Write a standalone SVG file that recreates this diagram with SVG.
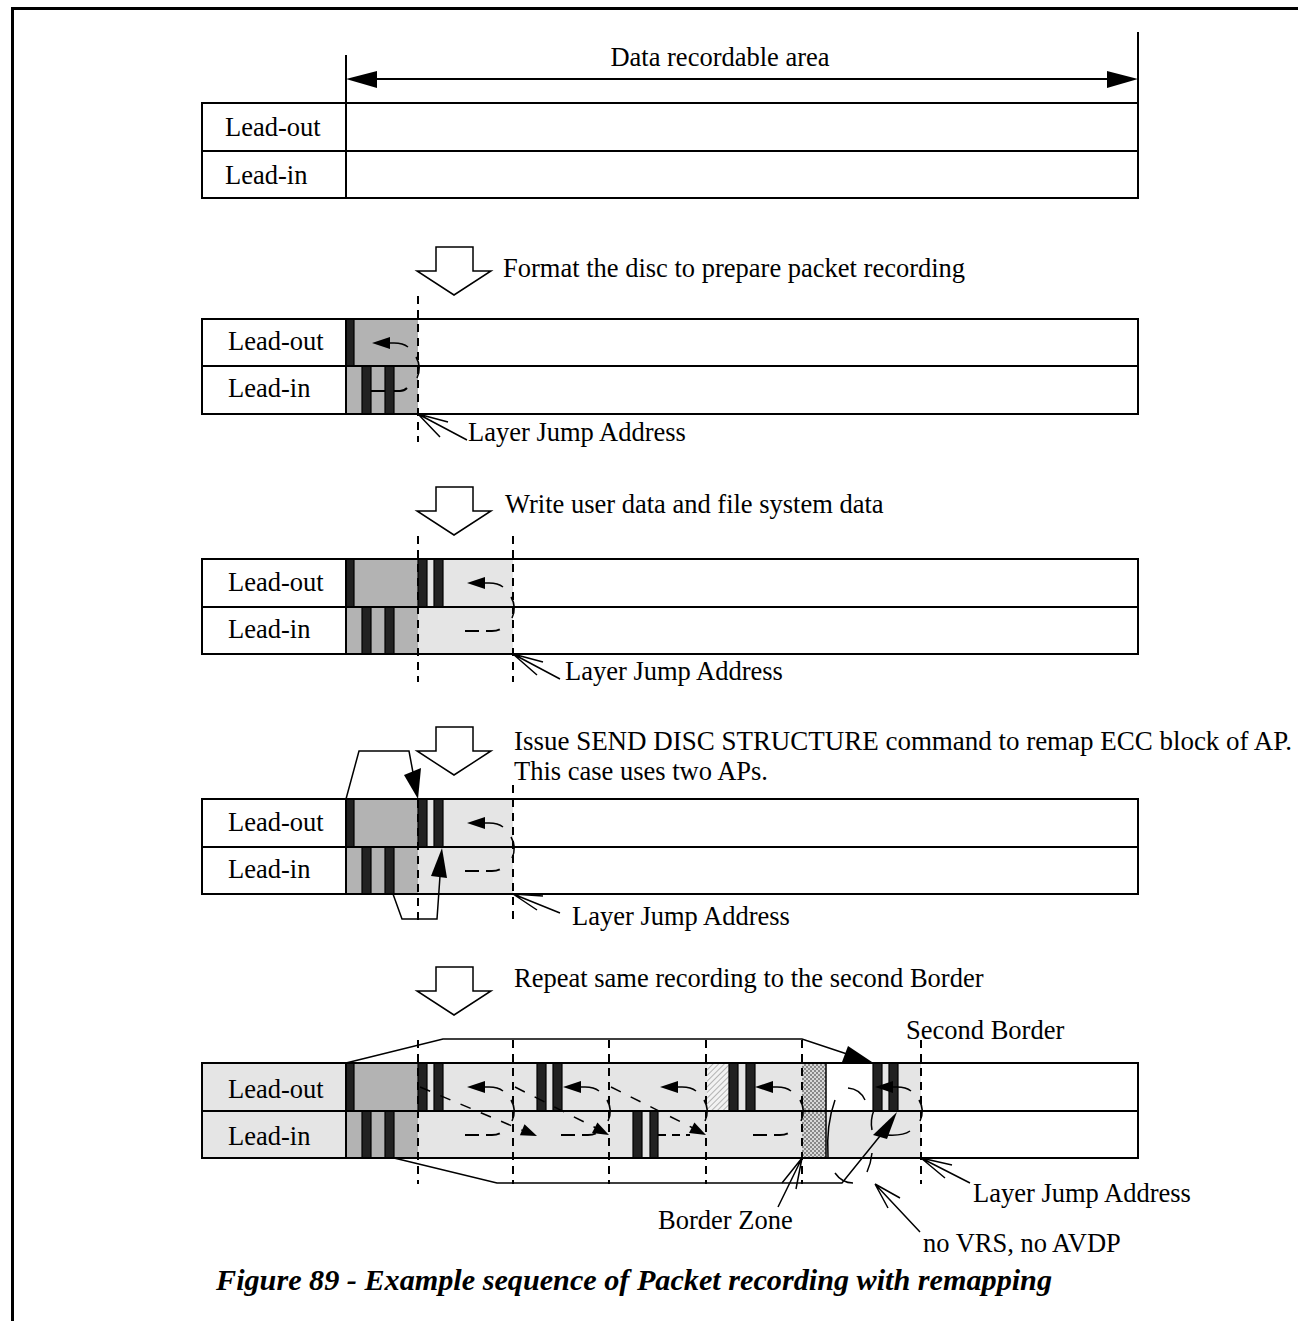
<svg xmlns="http://www.w3.org/2000/svg" xmlns:xlink="http://www.w3.org/1999/xlink" width="1298" height="1321" viewBox="0 0 1298 1321">
<style>
text{font-family:"Liberation Serif","Times New Roman",serif;font-size:26.5px;fill:#000}
.cap{font-weight:bold;font-style:italic;font-size:30.2px}
.tb{fill:none;stroke:#000;stroke-width:2}
.ln{fill:none;stroke:#000;stroke-width:2}
.thin{fill:none;stroke:#000;stroke-width:1.5}
.dash{fill:none;stroke:#000;stroke-width:2;stroke-dasharray:8 6}
.ddash{fill:none;stroke:#000;stroke-width:1.5;stroke-dasharray:11 11}
.bar{fill:#222;stroke:#000;stroke-width:1.2}
.dk{fill:#b3b3b3}
.lt{fill:#e5e5e5}
.blk{fill:#000}
.barrow{fill:#fff;stroke:#000;stroke-width:1.5}
</style>
<defs>
<pattern id="hatch" width="4" height="4" patternUnits="userSpaceOnUse" patternTransform="rotate(45)"><rect width="4" height="4" fill="#f2f2f2"/><line x1="0" y1="0" x2="0" y2="4" stroke="#888" stroke-width="1.2"/></pattern>
<pattern id="check" width="4" height="4" patternUnits="userSpaceOnUse"><rect width="4" height="4" fill="#d8d8d8"/><rect width="2" height="2" fill="#888"/><rect x="2" y="2" width="2" height="2" fill="#888"/></pattern>
<g id="larrow"><polygon points="0,0 18,-6 18,6" fill="#000"/><path d="M14 0 L22 0 Q31 0 36 4" fill="none" stroke="#000" stroke-width="1.5"/></g>
<path id="ldash" d="M0 0 L27 0 Q34 0 38 -4" fill="none" stroke="#000" stroke-width="2" stroke-dasharray="14 7"/>
<path id="loop" d="M-2 0 Q4 10 -1 21" fill="none" stroke="#000" stroke-width="1.5"/>
</defs>

<g id="frame">
<path d="M12.5 1321 V8.5 H1298" fill="none" stroke="#000" stroke-width="3"/>
</g>

<!-- Section 1 -->
<g id="stage1">
<text x="720" y="66" text-anchor="middle">Data recordable area</text>
<line class="ln" x1="346" y1="55" x2="346" y2="198"/>
<line class="ln" x1="1138" y1="32" x2="1138" y2="198"/>
<line class="ln" x1="360" y1="79" x2="1124" y2="79"/>
<polygon class="blk" points="346,79 377,71 377,88"/>
<polygon class="blk" points="1138,79 1107,71 1107,88"/>
<rect class="tb" x="202" y="103" width="936" height="95"/>
<line class="tb" x1="202" y1="151" x2="1138" y2="151"/>
<text x="225" y="136">Lead-out</text>
<text x="225" y="184">Lead-in</text>
</g>

<!-- Section 2 -->
<g id="step1">
<polygon class="barrow" points="436,247 473,247 473,271 491,271 454,295 417,271 436,271"/>
<text x="503" y="277">Format the disc to prepare packet recording</text>
</g>
<g id="stage2">
<rect class="dk" x="346" y="319" width="72" height="95"/>
<rect class="bar" x="346" y="319" width="8" height="47"/>
<rect class="bar" x="362" y="366" width="9" height="48"/>
<rect class="bar" x="385" y="366" width="9" height="48"/>
<use xlink:href="#larrow" x="372" y="343"/>
<path d="M371 391 H385 M394 391 H400 Q404 391 407 388" fill="none" stroke="#000" stroke-width="2"/>
<use xlink:href="#loop" x="418" y="357"/>
<rect class="tb" x="202" y="319" width="936" height="95"/>
<line class="tb" x1="202" y1="366" x2="1138" y2="366"/>
<line class="tb" x1="346" y1="319" x2="346" y2="414"/>
<line class="dash" x1="418" y1="296" x2="418" y2="442"/>
<text x="228" y="350">Lead-out</text>
<text x="228" y="397">Lead-in</text>
<text x="468" y="441">Layer Jump Address</text>
</g>

<!-- Section 3 -->
<g id="step2">
<polygon class="barrow" points="436,487 473,487 473,511 491,511 454,535 417,511 436,511"/>
<text x="505" y="513">Write user data and file system data</text>
</g>
<g id="stage3">
<rect class="dk" x="346" y="559" width="72" height="95"/>
<rect class="lt" x="418" y="559" width="95" height="95"/>
<rect class="bar" x="346" y="559" width="8" height="48"/>
<rect class="bar" x="362" y="607" width="9" height="47"/>
<rect class="bar" x="385" y="607" width="9" height="47"/>
<rect class="bar" x="418" y="559" width="9" height="48"/>
<rect class="bar" x="434" y="559" width="9" height="48"/>
<use xlink:href="#larrow" x="467" y="583"/>
<use xlink:href="#ldash" x="465" y="631"/>
<use xlink:href="#loop" x="513" y="597"/>
<rect class="tb" x="202" y="559" width="936" height="95"/>
<line class="tb" x1="202" y1="607" x2="1138" y2="607"/>
<line class="tb" x1="346" y1="559" x2="346" y2="654"/>
<line class="dash" x1="418" y1="536" x2="418" y2="682"/>
<line class="dash" x1="513" y1="536" x2="513" y2="682"/>
<text x="228" y="591">Lead-out</text>
<text x="228" y="638">Lead-in</text>
<text x="565" y="680">Layer Jump Address</text>
</g>

<!-- Section 4 -->
<g id="step3">
<polygon class="barrow" points="436,727 473,727 473,751 491,751 454,775 417,751 436,751"/>
<text x="514" y="750" textLength="778" lengthAdjust="spacingAndGlyphs">Issue SEND DISC STRUCTURE command to remap ECC block of AP.</text>
<text x="514" y="780">This case uses two APs.</text>
</g>
<g id="stage4">
<rect class="dk" x="346" y="799" width="72" height="95"/>
<rect class="lt" x="418" y="799" width="95" height="95"/>
<rect class="bar" x="346" y="799" width="8" height="48"/>
<rect class="bar" x="362" y="847" width="9" height="47"/>
<rect class="bar" x="385" y="847" width="9" height="47"/>
<rect class="bar" x="418" y="799" width="9" height="48"/>
<rect class="bar" x="434" y="799" width="9" height="48"/>
<use xlink:href="#larrow" x="467" y="823"/>
<use xlink:href="#ldash" x="465" y="871"/>
<use xlink:href="#loop" x="513" y="837"/>
<rect class="tb" x="202" y="799" width="936" height="95"/>
<line class="tb" x1="202" y1="847" x2="1138" y2="847"/>
<line class="tb" x1="346" y1="799" x2="346" y2="894"/>
<line class="dash" x1="418" y1="800" x2="418" y2="921"/>
<line class="dash" x1="513" y1="785" x2="513" y2="921"/>
<text x="228" y="831">Lead-out</text>
<text x="228" y="878">Lead-in</text>
<text x="572" y="925">Layer Jump Address</text>
</g>

<!-- Section 5 -->
<g id="step4">
<polygon class="barrow" points="436,967 473,967 473,991 491,991 454,1015 417,991 436,991"/>
<text x="514" y="987">Repeat same recording to the second Border</text>
<text x="906" y="1039">Second Border</text>
</g>
<g id="stage5">
<rect class="lt" x="202" y="1063" width="144" height="95"/>
<rect class="dk" x="346" y="1063" width="72" height="95"/>
<rect class="lt" x="418" y="1063" width="503" height="95"/>
<rect fill="#fff" x="826" y="1063" width="47" height="48"/>
<rect fill="url(#hatch)" x="707" y="1063" width="22" height="48"/>
<rect fill="url(#check)" x="802" y="1063" width="24" height="95"/>
<rect class="bar" x="346" y="1063" width="8" height="48"/>
<rect class="bar" x="362" y="1111" width="9" height="47"/>
<rect class="bar" x="385" y="1111" width="9" height="47"/>
<rect class="bar" x="418" y="1063" width="9" height="48"/>
<rect class="bar" x="434" y="1063" width="9" height="48"/>
<rect class="bar" x="537" y="1063" width="9" height="48"/>
<rect class="bar" x="553" y="1063" width="9" height="48"/>
<rect class="bar" x="633" y="1111" width="9" height="47"/>
<rect class="bar" x="650" y="1111" width="8" height="47"/>
<rect class="bar" x="729" y="1063" width="9" height="48"/>
<rect class="bar" x="746" y="1063" width="9" height="48"/>
<rect class="bar" x="873" y="1063" width="9" height="48"/>
<rect class="bar" x="889" y="1063" width="9" height="48"/>
<line x1="826" y1="1063" x2="826" y2="1158" stroke="#000" stroke-width="1.5"/>
<use xlink:href="#larrow" x="467" y="1087"/>
<use xlink:href="#larrow" x="563" y="1087"/>
<use xlink:href="#larrow" x="660" y="1087"/>
<use xlink:href="#larrow" x="755" y="1087"/>
<use xlink:href="#larrow" x="875" y="1087"/>
<use xlink:href="#ldash" x="465" y="1135"/>
<use xlink:href="#ldash" x="561" y="1135"/>
<path d="M658 1135 H690" class="dash" stroke-dasharray="12 6"/>
<use xlink:href="#ldash" x="753" y="1135"/>
<path d="M887 1135 Q903 1136 910 1131" fill="none" stroke="#000" stroke-width="1.5"/>
<use xlink:href="#loop" x="513" y="1100"/>
<use xlink:href="#loop" x="609" y="1100"/>
<use xlink:href="#loop" x="706" y="1100"/>
<use xlink:href="#loop" x="802" y="1100"/>
<use xlink:href="#loop" x="921" y="1100"/>
<line class="ddash" x1="420" y1="1087" x2="524" y2="1131"/>
<polygon class="blk" points="537,1136 519.9,1135.3 524.5,1124.3"/>
<line class="ddash" x1="515" y1="1087" x2="596" y2="1128"/>
<polygon class="blk" points="609,1135 592,1133 597.4,1122.4"/>
<line class="ddash" x1="611" y1="1087" x2="693" y2="1128"/>
<polygon class="blk" points="706,1135 689,1133.1 694.4,1122.5"/>
<path d="M848 1088 Q860 1089 865 1100" class="thin"/>
<path d="M835 1100 Q826 1125 828 1157" class="thin"/>
<path d="M835 1173 Q842 1183 853 1183" class="thin"/>
<path d="M872 1153 Q871 1163 867 1172" class="thin"/>
<path d="M874 1110 Q870 1120 872 1130" class="thin"/>
<rect class="tb" x="202" y="1063" width="936" height="95"/>
<line class="tb" x1="202" y1="1111" x2="1138" y2="1111"/>
<line class="tb" x1="346" y1="1063" x2="346" y2="1158"/>
<line class="dash" x1="418" y1="1040" x2="418" y2="1184"/>
<line class="dash" x1="513" y1="1040" x2="513" y2="1184"/>
<line class="dash" x1="609" y1="1040" x2="609" y2="1184"/>
<line class="dash" x1="706" y1="1040" x2="706" y2="1184"/>
<line class="dash" x1="802" y1="1040" x2="802" y2="1184"/>
<line class="dash" x1="921" y1="1040" x2="921" y2="1184"/>
<text x="228" y="1098">Lead-out</text>
<text x="228" y="1145">Lead-in</text>
<text x="658" y="1229">Border Zone</text>
<text x="923" y="1252">no VRS, no AVDP</text>
<text x="973" y="1202">Layer Jump Address</text>
</g>

<g id="connectors">
<path class="thin" d="M418 414 L467 440 M418 414 L448 422 M418 414 L440 437"/>
<path class="thin" d="M513 654 L560 679 M513 654 L543 662 M513 654 L537 675"/>
<path class="thin" d="M346 799 L359 751 L409 751 L414 778"/>
<polygon class="blk" points="418,799 404,775 421,768"/>
<path class="thin" d="M393 894 L402 919 L437 919 L440 876"/>
<polygon class="blk" points="442,848 431,876 447,878"/>
<path class="thin" d="M513 894 L560 913 M513 894 L543 896 M513 894 L537 910"/>
<path class="thin" d="M346 1063 L443 1039 L802 1039 L850 1055"/>
<polygon class="blk" points="872,1062 842,1062 848,1046"/>
<path class="thin" d="M394 1158 L497 1183 L842 1183 L880 1136"/>
<polygon class="blk" points="897,1112 873,1135 887,1139"/>
<path class="thin" d="M802 1158 L778 1207 M802 1158 L782 1183 M802 1158 L796 1189"/>
<path class="thin" d="M875 1184 L920 1232 M875 1184 L900 1198 M875 1184 L888 1208"/>
<path class="thin" d="M921 1158 L970 1183 M921 1158 L952 1165 M921 1158 L945 1178"/>
</g>

<text class="cap" x="216" y="1290">Figure 89 - Example sequence of Packet recording with remapping</text>
</svg>
